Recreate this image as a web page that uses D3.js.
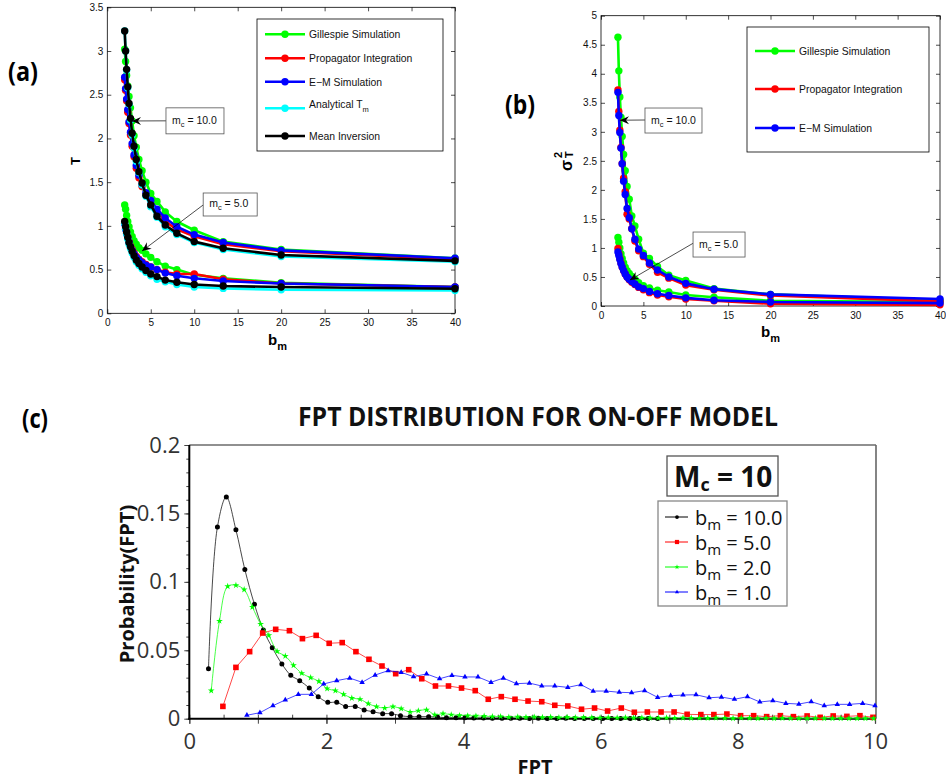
<!DOCTYPE html>
<html><head><meta charset="utf-8">
<script src="https://cdn.jsdelivr.net/npm/d3@7"></script>
<style>body{margin:0;background:#fff}svg{display:block}</style>
</head><body><svg id="chart" width="946" height="780"></svg>
<script>
// ---------- DATA ----------
// panels (a) and (b): b_m values
const bm = [2.0, 2.105, 2.222, 2.353, 2.5, 2.667, 2.857, 3.077, 3.333, 3.636, 4.0, 4.444, 5.0, 5.714, 6.667, 8.0, 10.0, 13.333, 20.0, 40.0];
const panelAXTicks = [0, 5, 10, 15, 20, 25, 30, 35, 40];
const panelAYTicks = [0, 0.5, 1, 1.5, 2, 2.5, 3, 3.5];
const panelBYTicks = [0, 0.5, 1, 1.5, 2, 2.5, 3, 3.5, 4, 4.5, 5];
const legendA = ["Gillespie Simulation", "Propagator Integration", "E\u2212M Simulation", "Analytical T", "Mean Inversion"];
const legendB = ["Gillespie Simulation", "Propagator Integration", "E\u2212M Simulation"];

// (a) mean FPT T, m_c = 10
const aGillespie10 = [3.02, 2.88, 2.72, 2.60, 2.48, 2.35, 2.20, 2.03, 1.90, 1.76, 1.63, 1.50, 1.37, 1.28, 1.16, 1.05, 0.95, 0.82, 0.73, 0.63];
const aPropagator10 = [2.67, 2.55, 2.43, 2.30, 2.17, 2.04, 1.91, 1.79, 1.66, 1.55, 1.45, 1.35, 1.24, 1.15, 1.05, 0.96, 0.88, 0.79, 0.71, 0.62];
const aEM10 = [2.70, 2.57, 2.45, 2.33, 2.19, 2.07, 1.94, 1.81, 1.69, 1.58, 1.47, 1.38, 1.29, 1.19, 1.09, 0.99, 0.90, 0.81, 0.72, 0.63];
const aAnalytical10 = [3.23, 3.00, 2.78, 2.58, 2.39, 2.21, 2.04, 1.89, 1.74, 1.61, 1.47, 1.34, 1.22, 1.10, 0.99, 0.90, 0.81, 0.73, 0.65, 0.59];
const aMeanInv10 = [3.23, 3.00, 2.79, 2.59, 2.40, 2.23, 2.06, 1.91, 1.76, 1.62, 1.49, 1.35, 1.24, 1.11, 1.01, 0.915, 0.82, 0.744, 0.667, 0.60];
// (a) m_c = 5
const aGillespie5 = [1.24, 1.19, 1.12, 1.05, 0.99, 0.93, 0.88, 0.83, 0.79, 0.75, 0.72, 0.68, 0.64, 0.59, 0.54, 0.50, 0.44, 0.40, 0.35, 0.30];
const aPropagator5 = [1.03, 0.98, 0.92, 0.87, 0.82, 0.77, 0.73, 0.69, 0.65, 0.62, 0.59, 0.56, 0.53, 0.50, 0.47, 0.45, 0.45, 0.39, 0.34, 0.30];
const aEM5 = [1.02, 0.96, 0.91, 0.86, 0.81, 0.76, 0.72, 0.68, 0.64, 0.61, 0.58, 0.55, 0.53, 0.50, 0.46, 0.43, 0.40, 0.37, 0.34, 0.30];
const aAnalytical5 = [1.03, 0.97, 0.91, 0.85, 0.79, 0.74, 0.69, 0.64, 0.59, 0.55, 0.51, 0.47, 0.43, 0.39, 0.36, 0.33, 0.30, 0.285, 0.27, 0.26];
const aMeanInv5 = [1.05, 0.99, 0.93, 0.87, 0.81, 0.76, 0.71, 0.66, 0.61, 0.57, 0.53, 0.49, 0.45, 0.42, 0.38, 0.355, 0.33, 0.313, 0.30, 0.28];

// (b) variance sigma_T^2, m_c = 10
const bGillespie10 = [4.63, 4.05, 3.60, 3.25, 2.92, 2.61, 2.33, 2.06, 1.84, 1.55, 1.38, 1.15, 0.91, 0.82, 0.68, 0.53, 0.44, 0.30, 0.20, 0.10];
const bPropagator10 = [3.72, 3.35, 3.03, 2.73, 2.45, 2.20, 1.97, 1.58, 1.50, 1.33, 1.12, 0.95, 0.85, 0.72, 0.58, 0.48, 0.36, 0.28, 0.18, 0.08];
const bEM10 = [3.68, 3.28, 2.99, 2.72, 2.45, 2.15, 1.92, 1.68, 1.52, 1.33, 1.15, 0.98, 0.87, 0.74, 0.62, 0.50, 0.39, 0.29, 0.20, 0.12];
// (b) m_c = 5
const bGillespie5 = [1.18, 1.10, 1.00, 0.90, 0.82, 0.74, 0.67, 0.61, 0.56, 0.51, 0.46, 0.40, 0.35, 0.31, 0.27, 0.24, 0.19, 0.15, 0.09, 0.07];
const bPropagator5 = [0.99, 0.90, 0.82, 0.74, 0.67, 0.61, 0.55, 0.50, 0.45, 0.41, 0.37, 0.32, 0.28, 0.23, 0.19, 0.16, 0.12, 0.09, 0.04, 0.02];
const bEM5 = [0.93, 0.87, 0.80, 0.73, 0.67, 0.61, 0.55, 0.50, 0.46, 0.42, 0.38, 0.33, 0.30, 0.25, 0.21, 0.18, 0.14, 0.10, 0.07, 0.05];

// (c) FPT distributions, M_c = 10
const fptTitle = "FPT DISTRIBUTION FOR ON-OFF MODEL";
const cXTicks = [0, 2, 4, 6, 8, 10];
const cYTicks = [0, 0.05, 0.1, 0.15, 0.2];
const cLegend = ["10.0", "5.0", "2.0", "1.0"];
const fptB10 = [0.28, 0.41, 0.54, 0.68, 0.81, 0.95, 1.08, 1.21, 1.35, 1.48, 1.61, 1.75, 1.88, 2.02, 2.15, 2.28, 2.42, 2.55, 2.68, 2.82, 2.95, 3.08, 3.22, 3.35, 3.49, 3.62, 3.75, 3.89, 4.02, 4.15, 4.29, 4.42, 4.56, 4.69, 4.82, 4.96, 5.09, 5.22, 5.36, 5.49, 5.62, 5.76, 5.89, 6.03, 6.16, 6.29, 6.43, 6.56, 6.69, 6.83];
const probB10 = [0.0365, 0.140, 0.162, 0.138, 0.109, 0.0836, 0.0648, 0.0519, 0.040, 0.0317, 0.0278, 0.0224, 0.0161, 0.012, 0.012, 0.009, 0.009, 0.0064, 0.0051, 0.0037, 0.0037, 0.0022, 0.0015, 0.0015, 0.0015, 0.0012, 0.0007, 0.0007, 0.0007, 0.0005, 0.0006, 0.0004, 0.0004, 0.0003, 0.0004, 0.0002, 0.0003, 0.0002, 0.0002, 0.0003, 0.0001, 0.0002, 0.0001, 0.0002, 0.0001, 0.0001, 0.0002, 0.0001, 0.0001, 0.0001];
const fptB5 = [0.49, 0.68, 0.88, 1.07, 1.26, 1.46, 1.65, 1.85, 2.04, 2.23, 2.43, 2.62, 2.81, 3.01, 3.20, 3.39, 3.59, 3.78, 3.97, 4.17, 4.36, 4.55, 4.75, 4.94, 5.14, 5.33, 5.52, 5.72, 5.91, 6.10, 6.30, 6.49, 6.68, 6.88, 7.07, 7.26, 7.46, 7.65, 7.84, 8.04, 8.23, 8.42, 8.62, 8.81, 9.01, 9.20, 9.39, 9.59, 9.78, 9.97];
const probB5 = [0.009, 0.0375, 0.049, 0.0626, 0.0653, 0.0643, 0.0585, 0.0609, 0.0551, 0.0556, 0.049, 0.0434, 0.0385, 0.0329, 0.0358, 0.0292, 0.0239, 0.0239, 0.0224, 0.0205, 0.0142, 0.0161, 0.0142, 0.0129, 0.0124, 0.0098, 0.0093, 0.0069, 0.0078, 0.0056, 0.0078, 0.0047, 0.0049, 0.0049, 0.0049, 0.0032, 0.0030, 0.0030, 0.0034, 0.0022, 0.0022, 0.0015, 0.0022, 0.0015, 0.0020, 0.0010, 0.0020, 0.0017, 0.0022, 0.0010];
const fptB2 = [0.32, 0.44, 0.56, 0.68, 0.80, 0.92, 1.04, 1.16, 1.28, 1.40, 1.52, 1.64, 1.77, 1.89, 2.01, 2.13, 2.25, 2.37, 2.49, 2.61, 2.73, 2.85, 2.97, 3.09, 3.22, 3.34, 3.46, 3.58, 3.70, 3.82, 3.94, 4.06, 4.18, 4.30, 4.42, 4.54, 4.66, 4.79, 4.91, 5.03, 5.15, 5.27, 5.39, 5.51, 5.63, 5.75, 5.87, 5.99, 6.11, 6.24, 6.36, 6.48, 6.60, 6.72, 6.84, 6.96, 7.08, 7.20, 7.32, 7.44, 7.56, 7.68, 7.81, 7.93, 8.05, 8.17, 8.29, 8.41, 8.53, 8.65, 8.77, 8.89, 9.01, 9.13, 9.26, 9.38, 9.50, 9.62, 9.74, 9.86, 9.98];
const probB2 = [0.0205, 0.0714, 0.0967, 0.0975, 0.0943, 0.0816, 0.0692, 0.0609, 0.0492, 0.0458, 0.039, 0.0332, 0.030, 0.0273, 0.022, 0.0205, 0.0178, 0.0151, 0.0142, 0.011, 0.0088, 0.0078, 0.0088, 0.0073, 0.0049, 0.0058, 0.0064, 0.0029, 0.0037, 0.0029, 0.0024, 0.0022, 0.0020, 0.0019, 0.0015,
  0.0016, 0.0012, 0.0014, 0.0011, 0.0013, 0.0010, 0.0012, 0.0009, 0.0011, 0.0008, 0.0010, 0.0008, 0.0007, 0.0009, 0.0007, 0.0008, 0.0006, 0.0007, 0.0006, 0.0005, 0.0007, 0.0005, 0.0006, 0.0004, 0.0005, 0.0004, 0.0006, 0.0004, 0.0003, 0.0005, 0.0004, 0.0003, 0.0004, 0.0003, 0.0004, 0.0003, 0.0002, 0.0003, 0.0003, 0.0002, 0.0003, 0.0002, 0.0002, 0.0003, 0.0002, 0.0002];
const fptB1 = [0.84, 1.03, 1.22, 1.40, 1.59, 1.78, 1.96, 2.15, 2.34, 2.52, 2.71, 2.90, 3.09, 3.27, 3.46, 3.65, 3.83, 4.02, 4.21, 4.40, 4.58, 4.77, 4.96, 5.14, 5.33, 5.52, 5.71, 5.89, 6.08, 6.27, 6.45, 6.64, 6.83, 7.02, 7.20, 7.39, 7.58, 7.76, 7.95, 8.14, 8.32, 8.51, 8.70, 8.89, 9.07, 9.26, 9.45, 9.63, 9.82, 10.0];
const probB1 = [0.0025, 0.0044, 0.0095, 0.0137, 0.0178, 0.0178, 0.0254, 0.0278, 0.0297, 0.0266, 0.0319, 0.0351, 0.0339, 0.0307, 0.0327, 0.0292, 0.0317, 0.0305, 0.0305, 0.0266, 0.0297, 0.0256, 0.026, 0.0239, 0.0239, 0.0229, 0.0249, 0.0202, 0.0202, 0.0193, 0.019, 0.0205, 0.0156, 0.0168, 0.0173, 0.0175, 0.0153, 0.0158, 0.0142, 0.0161, 0.0122, 0.0132, 0.0112, 0.0107, 0.0124, 0.0095, 0.0105, 0.0105, 0.0112, 0.0095];

// ---------- DRAW ----------
const svg = d3.select('#chart');
svg.append('rect').attr('width', 946).attr('height', 780).attr('fill', '#fff');
const ML = 'Liberation Sans, Arial, Helvetica, sans-serif';
const OS = '"Open Sans", "Noto Sans", sans-serif';
const COL = {g: '#00ff00', r: '#ff0000', b: '#0000ff', c: '#00ffff', k: '#000000'};

function matlabAxes(g, x, y, xt, yt) {
  const [x0, x1] = x.range(), [y0, y1] = y.range();
  const mk = (sel) => { sel.select('.domain').remove(); sel.attr('font-family', ML).attr('font-size', 10);
    sel.selectAll('line').attr('stroke', '#000').attr('stroke-width', 0.7);
    sel.selectAll('text').attr('fill', '#111'); return sel; };
  mk(g.append('g').attr('transform', `translate(0,${y0})`).call(d3.axisBottom(x).tickValues(xt).tickSizeInner(-4).tickSizeOuter(0).tickPadding(6).tickFormat(d3.format('d'))));
  mk(g.append('g').attr('transform', `translate(0,${y1})`).call(d3.axisTop(x).tickValues(xt).tickSizeInner(-4).tickSizeOuter(0).tickFormat('')));
  mk(g.append('g').attr('transform', `translate(${x0},0)`).call(d3.axisLeft(y).tickValues(yt).tickSizeInner(-4).tickSizeOuter(0).tickPadding(4).tickFormat(d => String(d))));
  mk(g.append('g').attr('transform', `translate(${x1},0)`).call(d3.axisRight(y).tickValues(yt).tickSizeInner(-4).tickSizeOuter(0).tickFormat('')));
  g.append('rect').attr('x', x0).attr('y', y1).attr('width', x1 - x0).attr('height', y0 - y1)
    .attr('fill', 'none').attr('stroke', '#000').attr('stroke-width', 0.8);
}

function matlabSeries(g, x, y, vals, color) {
  const pts = bm.map((b, i) => [b, vals[i]]);
  g.append('path').datum(pts).attr('fill', 'none').attr('stroke', color).attr('stroke-width', 2.6)
    .attr('stroke-linejoin', 'round').attr('d', d3.line().x(d => x(d[0])).y(d => y(d[1])));
  g.selectAll(null).data(pts).enter().append('circle').attr('cx', d => x(d[0])).attr('cy', d => y(d[1]))
    .attr('r', 3.7).attr('fill', color);
}

function arrowAnno(g, x, y, a) {
  const tx = x(a.tip[0]), ty = y(a.tip[1]);
  const bx = x(a.box[0]), by = y(a.box[1]);
  const sx = bx, sy = by + a.h * a.tail;
  g.append('line').attr('x1', sx).attr('y1', sy).attr('x2', tx).attr('y2', ty).attr('stroke', '#000').attr('stroke-width', 0.7);
  const ang = Math.atan2(ty - sy, tx - sx) * 180 / Math.PI;
  g.append('path').attr('d', 'M0,0 L-9,-4 L-6,0 L-9,4 Z').attr('fill', '#000')
    .attr('transform', `translate(${tx},${ty}) rotate(${ang})`);
  g.append('rect').attr('x', bx).attr('y', by).attr('width', a.w).attr('height', a.h)
    .attr('fill', '#fff').attr('stroke', '#555').attr('stroke-width', 0.8);
  const t = g.append('text').attr('x', bx + 6).attr('y', by + a.h / 2 + 3).attr('font-family', ML).attr('font-size', 10.5).attr('fill', '#111');
  t.append('tspan').text('m');
  t.append('tspan').attr('font-size', 7.5).attr('dy', 3).text('c');
  t.append('tspan').attr('dy', -3).text(' = ' + a.label);
}

// ----- Panel (a)
const gA = svg.append('g');
const ax = d3.scaleLinear().domain([0, 40]).range([107.3, 455]);
const ay = d3.scaleLinear().domain([0, 3.5]).range([313.3, 7.3]);
matlabAxes(gA, ax, ay, panelAXTicks, panelAYTicks);
[[aGillespie10, aGillespie5, COL.g], [aPropagator10, aPropagator5, COL.r], [aEM10, aEM5, COL.b],
 [aAnalytical10, aAnalytical5, COL.c], [aMeanInv10, aMeanInv5, COL.k]].forEach(([s10, s5, c]) => {
  matlabSeries(gA, ax, ay, s10, c); matlabSeries(gA, ax, ay, s5, c);
});
arrowAnno(gA, ax, ay, {tip: [2.84, 2.20], box: [6.75, 2.35], w: 58, h: 26, tail: 0.5, label: '10.0'});
arrowAnno(gA, ax, ay, {tip: [4.0, 0.713], box: [11.03, 1.376], w: 54, h: 23, tail: 0.52, label: '5.0'});
// legend (a)
{
  const lg = gA.append('g');
  lg.append('rect').attr('x', 257).attr('y', 19).attr('width', 186).attr('height', 132).attr('fill', '#fff').attr('stroke', '#000').attr('stroke-width', 0.8);
  const ys = [34.3, 58.3, 81.7, 108.3, 136];
  const cs = [COL.g, COL.r, COL.b, COL.c, COL.k];
  legendA.forEach((name, i) => {
    lg.append('line').attr('x1', 265).attr('x2', 305).attr('y1', ys[i]).attr('y2', ys[i]).attr('stroke', cs[i]).attr('stroke-width', 2.6);
    lg.append('circle').attr('cx', 285).attr('cy', ys[i]).attr('r', 3.7).attr('fill', cs[i]);
    const t = lg.append('text').attr('x', 309).attr('y', ys[i] + (i === 3 ? 0 : 4)).attr('font-family', ML).attr('font-size', 10.4).attr('fill', '#111').text(name);
    if (i === 3) t.append('tspan').attr('font-size', 7.5).attr('dy', 4).text('m');
  });
}
gA.append('text').attr('transform', 'translate(80,161) rotate(-90)').attr('text-anchor', 'middle')
  .attr('font-family', ML).attr('font-weight', 'bold').attr('font-size', 13).text('T');
{
  const t = gA.append('text').attr('x', 268).attr('y', 345).attr('font-family', ML).attr('font-weight', 'bold').attr('font-size', 15);
  t.append('tspan').text('b'); t.append('tspan').attr('font-size', 11).attr('dy', 5).text('m');
}
gA.append('text').attr('x', 8).attr('y', 81).attr('font-family', OS).attr('font-weight', 'bold').attr('font-size', 27).attr('textLength', 30).attr('lengthAdjust', 'spacingAndGlyphs').text('(a)');

// ----- Panel (b)
const gB = svg.append('g');
const bx = d3.scaleLinear().domain([0, 40]).range([601, 940]);
const by = d3.scaleLinear().domain([0, 5]).range([306, 15.7]);
matlabAxes(gB, bx, by, panelAXTicks, panelBYTicks);
[[bGillespie10, bGillespie5, COL.g], [bPropagator10, bPropagator5, COL.r], [bEM10, bEM5, COL.b]].forEach(([s10, s5, c]) => {
  matlabSeries(gB, bx, by, s10, c); matlabSeries(gB, bx, by, s5, c);
});
arrowAnno(gB, bx, by, {tip: [2.24, 3.2], box: [5.19, 3.41], w: 57, h: 25, tail: 0.48, label: '10.0'});
arrowAnno(gB, bx, by, {tip: [3.42, 0.448], box: [10.86, 1.274], w: 52, h: 25, tail: 0.45, label: '5.0'});
{
  const lg = gB.append('g');
  lg.append('rect').attr('x', 747).attr('y', 27).attr('width', 182).attr('height', 125).attr('fill', '#fff').attr('stroke', '#000').attr('stroke-width', 0.8);
  const ys = [51, 89, 128];
  const cs = [COL.g, COL.r, COL.b];
  legendB.forEach((name, i) => {
    lg.append('line').attr('x1', 755).attr('x2', 795).attr('y1', ys[i]).attr('y2', ys[i]).attr('stroke', cs[i]).attr('stroke-width', 2.6);
    lg.append('circle').attr('cx', 775).attr('cy', ys[i]).attr('r', 3.7).attr('fill', cs[i]);
    lg.append('text').attr('x', 799).attr('y', ys[i] + 4).attr('font-family', ML).attr('font-size', 10.4).attr('fill', '#111').text(name);
  });
}
{
  const g = gB.append('g').attr('transform', 'translate(572,171) rotate(-90)').attr('font-family', ML).attr('font-weight', 'bold');
  g.append('text').attr('x', 0).attr('y', 0).attr('font-size', 16).text('\u03c3');
  g.append('text').attr('x', 13).attr('y', -10).attr('font-size', 11).text('2');
  g.append('text').attr('x', 13).attr('y', 1).attr('font-size', 11).text('T');
}
{
  const t = gB.append('text').attr('x', 761).attr('y', 337).attr('font-family', ML).attr('font-weight', 'bold').attr('font-size', 15);
  t.append('tspan').text('b'); t.append('tspan').attr('font-size', 11).attr('dy', 5).text('m');
}
gB.append('text').attr('x', 505).attr('y', 114).attr('font-family', OS).attr('font-weight', 'bold').attr('font-size', 27).attr('textLength', 30).attr('lengthAdjust', 'spacingAndGlyphs').text('(b)');

// ----- Panel (c)
const gC = svg.append('g');
const cx = d3.scaleLinear().domain([0, 10]).range([189.3, 875]);
const cy = d3.scaleLinear().domain([0, 0.2]).range([718.7, 445]);
gC.append('text').attr('x', 22).attr('y', 428).attr('font-family', OS).attr('font-weight', 'bold').attr('font-size', 27).attr('textLength', 26).attr('lengthAdjust', 'spacingAndGlyphs').text('(c)');
gC.append('text').attr('x', 298).attr('y', 426).attr('font-family', OS).attr('font-weight', 'bold').attr('font-size', 26)
  .attr('textLength', 480).attr('lengthAdjust', 'spacingAndGlyphs').attr('fill', '#111').text(fptTitle);
// frame: top & right
gC.append('line').attr('x1', cx(0)).attr('x2', cx(10) + 1).attr('y1', cy(0.2)).attr('y2', cy(0.2)).attr('stroke', '#222').attr('stroke-width', 1.2);
gC.append('line').attr('x1', cx(10) + 1).attr('x2', cx(10) + 1).attr('y1', cy(0.2)).attr('y2', cy(0)).attr('stroke', '#666').attr('stroke-width', 1.6);
{
  const yAx = gC.append('g').attr('transform', `translate(${cx(0)},0)`)
    .call(d3.axisLeft(cy).ticks(20).tickSizeInner(3).tickSizeOuter(0).tickFormat(''));
  yAx.select('.domain').remove(); yAx.selectAll('line').attr('stroke', '#444');
  const yLab = gC.append('g').attr('transform', `translate(${cx(0)},0)`)
    .call(d3.axisLeft(cy).tickValues(cYTicks).tickSizeInner(5).tickSizeOuter(0).tickPadding(4).tickFormat(d => String(d)));
  yLab.select('.domain').remove(); yLab.selectAll('line').attr('stroke', '#444');
  yLab.selectAll('text').attr('font-family', OS).attr('font-size', 22).attr('fill', '#333');
  const xMin = gC.append('g').attr('transform', `translate(0,${cy(0)})`)
    .call(d3.axisBottom(cx).ticks(20).tickSizeInner(-4).tickSizeOuter(0).tickFormat(''));
  xMin.select('.domain').remove(); xMin.selectAll('line').attr('stroke', '#444');
  const xLab = gC.append('g').attr('transform', `translate(0,${cy(0)})`)
    .call(d3.axisBottom(cx).tickValues(cXTicks).tickSizeInner(5).tickSizeOuter(0).tickPadding(10).tickFormat(d => String(d)));
  xLab.select('.domain').remove(); xLab.selectAll('line').attr('stroke', '#555').attr('stroke-width', 1.3);
  xLab.selectAll('text').attr('font-family', OS).attr('font-size', 22).attr('fill', '#333');
  const xInt = gC.append('g').attr('transform', `translate(0,${cy(0)})`)
    .call(d3.axisBottom(cx).ticks(10).tickSizeInner(5).tickSizeOuter(0).tickFormat(''));
  xInt.select('.domain').remove(); xInt.selectAll('line').attr('stroke', '#444');
}
gC.append('line').attr('x1', cx(0)).attr('x2', cx(0)).attr('y1', cy(0.2)).attr('y2', cy(0) + 1).attr('stroke', '#000').attr('stroke-width', 2);
gC.append('line').attr('x1', cx(0) - 1).attr('x2', cx(10) + 1).attr('y1', cy(0)).attr('y2', cy(0)).attr('stroke', '#000').attr('stroke-width', 2);

const cSeries = [
  {x: fptB10, y: probB10, color: '#000000', curve: d3.curveCatmullRom, sym: 'circle'},
  {x: fptB5, y: probB5, color: '#ff0000', curve: d3.curveLinear, sym: 'square'},
  {x: fptB2, y: probB2, color: '#00ff00', curve: d3.curveCatmullRom, sym: 'star'},
  {x: fptB1, y: probB1, color: '#0000ff', curve: d3.curveLinear, sym: 'triangle'}
];
function drawSym(g, sym, color, px, py, scale) {
  const s = scale || 1;
  if (sym === 'circle') g.append('circle').attr('cx', px).attr('cy', py).attr('r', 2.5 * s).attr('fill', color);
  else if (sym === 'square') g.append('rect').attr('x', px - 2.8 * s).attr('y', py - 2.8 * s).attr('width', 5.6 * s).attr('height', 5.6 * s).attr('fill', color);
  else if (sym === 'star') g.append('path').attr('d', d3.symbol(d3.symbolStar, 14 * s * s)()).attr('transform', `translate(${px},${py})`).attr('fill', color);
  else g.append('path').attr('d', d3.symbol(d3.symbolTriangle, 13 * s * s)()).attr('transform', `translate(${px},${py})`).attr('fill', color);
}
cSeries.forEach(s => {
  const pts = s.x.map((v, i) => [v, s.y[i]]);
  gC.append('path').datum(pts).attr('fill', 'none').attr('stroke', s.color).attr('stroke-width', 0.9).attr('stroke-opacity', 0.8)
    .attr('d', d3.line().curve(s.curve).x(d => cx(d[0])).y(d => cy(d[1])));
  const mg = gC.append('g');
  pts.forEach(d => drawSym(mg, s.sym, s.color, cx(d[0]), cy(d[1])));
});
gC.append('text').attr('transform', 'translate(134,584) rotate(-90)').attr('text-anchor', 'middle')
  .attr('font-family', OS).attr('font-weight', 'bold').attr('font-size', 20).attr('fill', '#111').text('Probability(FPT)');
gC.append('text').attr('x', 535).attr('y', 774).attr('text-anchor', 'middle')
  .attr('font-family', OS).attr('font-weight', 'bold').attr('font-size', 20).attr('fill', '#111').text('FPT');
gC.append('rect').attr('x', 667).attr('y', 456).attr('width', 111).attr('height', 40).attr('fill', '#fff').attr('stroke', '#555').attr('stroke-width', 1.3);
{
  const t = gC.append('text').attr('x', 674).attr('y', 487).attr('font-family', OS).attr('font-weight', 'bold').attr('font-size', 28).attr('fill', '#111');
  t.append('tspan').text('M'); t.append('tspan').attr('font-size', 18).attr('dy', 4).text('c'); t.append('tspan').attr('dy', -4).text(' = 10');
}
gC.append('rect').attr('x', 658).attr('y', 501).attr('width', 129).attr('height', 105).attr('fill', '#fff').attr('stroke', '#888').attr('stroke-width', 1.3);
cLegend.forEach((lab, i) => {
  const yy = 517 + i * 25;
  const s = cSeries[i];
  gC.append('line').attr('x1', 665).attr('x2', 688).attr('y1', yy).attr('y2', yy).attr('stroke', s.color).attr('stroke-width', 1);
  drawSym(gC, s.sym, s.color, 677, yy, 0.75);
  const t = gC.append('text').attr('x', 695).attr('y', yy + 8).attr('font-family', OS).attr('font-size', 20).attr('fill', '#111');
  t.append('tspan').text('b'); t.append('tspan').attr('font-size', 15).attr('dy', 5).text('m'); t.append('tspan').attr('dy', -5).text(' = ' + lab);
});
</script></body></html>
